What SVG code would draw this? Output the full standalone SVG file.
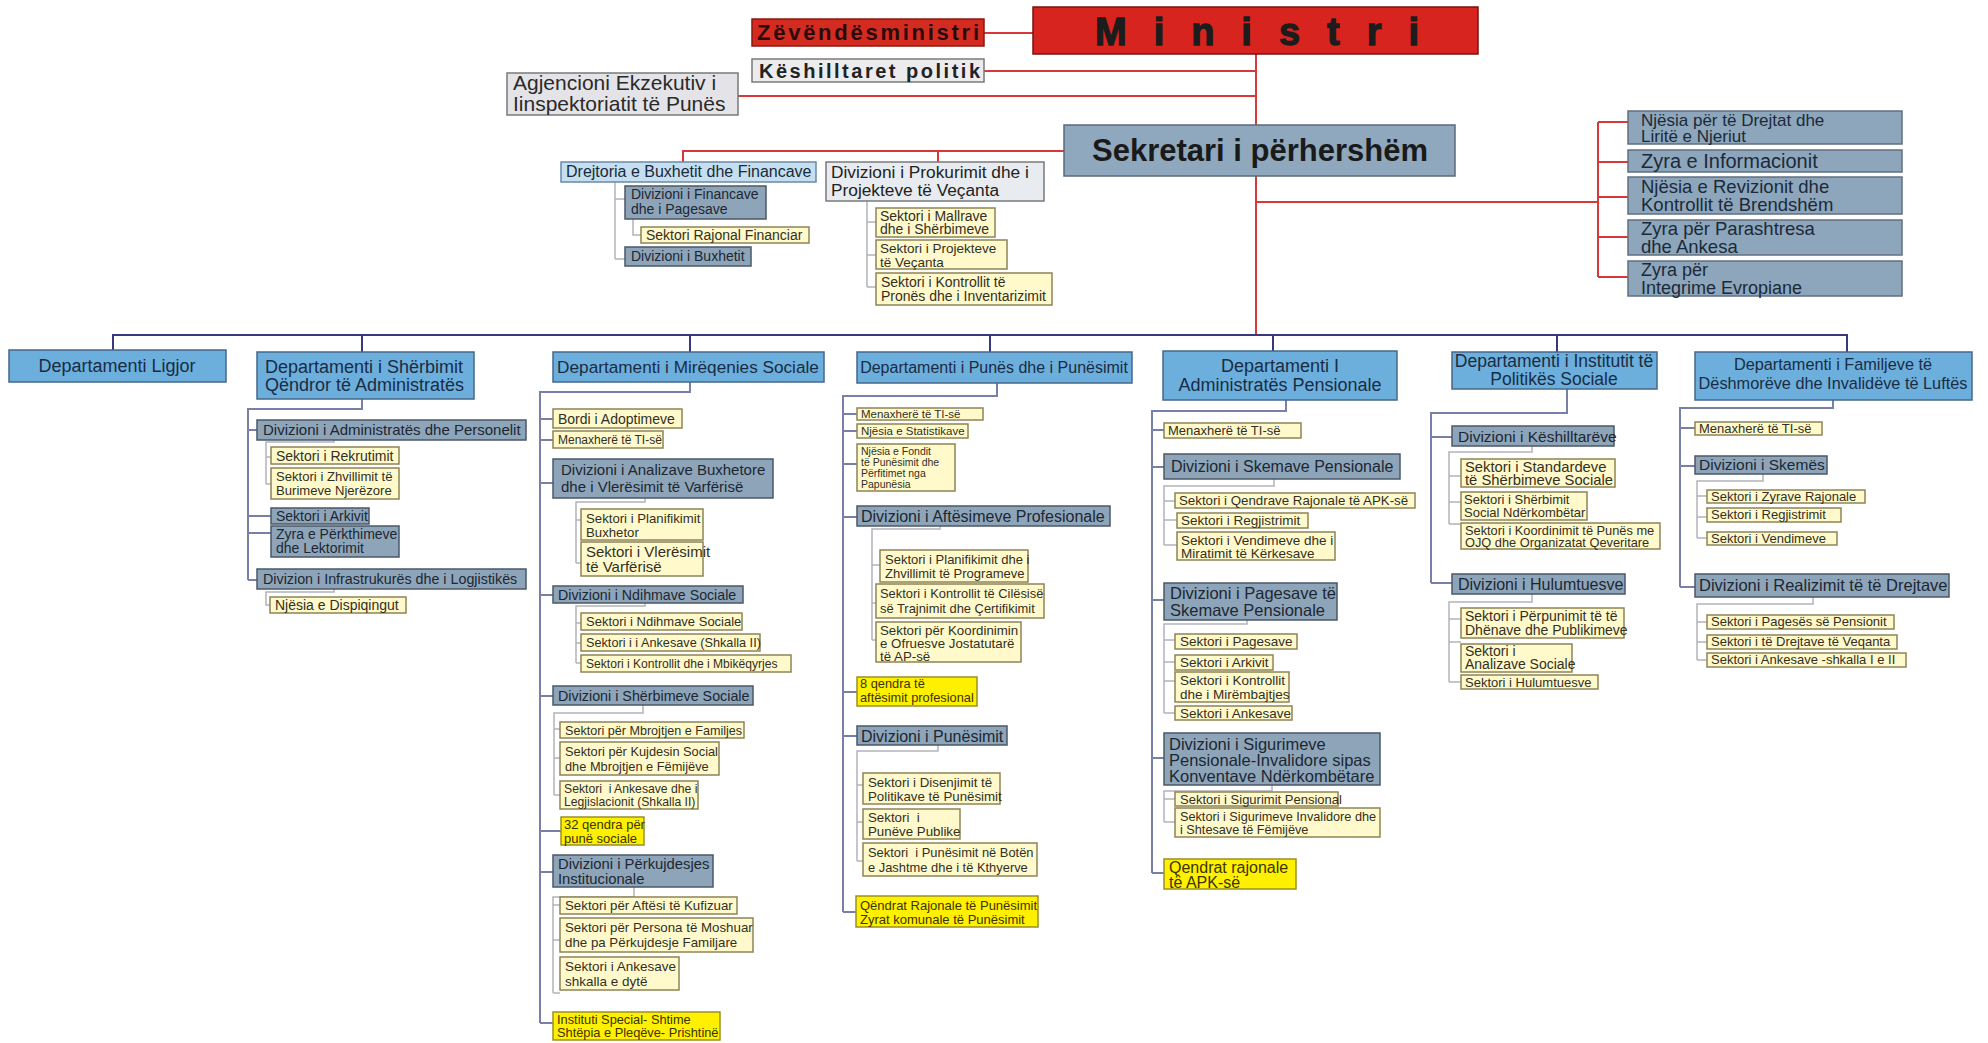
<svg xmlns="http://www.w3.org/2000/svg" width="1988" height="1043" viewBox="0 0 1988 1043">
<style>
text{font-family:"Liberation Sans",Arial,sans-serif;}
.red{fill:none;stroke:#d8383a;stroke-width:2}
.bar{fill:none;stroke:#3a3879;stroke-width:2}
.main{fill:none;stroke:#7880a8;stroke-width:2}
.sub{fill:none;stroke:#b2b2bc;stroke-width:1.5}
.dep rect{fill:#6cafdc;stroke:#46678a;stroke-width:1.5}
.dep text{fill:#1a2c44;font-size:18px}
.dv rect{fill:#8ea5b9;stroke:#4a5868;stroke-width:1.5}
.dv text{fill:#1c2733}
.sec rect{fill:#fff9cc;stroke:#8f8456;stroke-width:1.5}
.sec text{fill:#333022}
.hi rect{fill:#fff000;stroke:#9a9020;stroke-width:1.5}
.hi text{fill:#3a3400}
.rg rect{fill:#8ea6bb;stroke:#5f6f80;stroke-width:1.5}
.rg text{fill:#1a2a3a}
</style>

<g id="connectors">
<path class="red" d="M984 33H1033M984 71H1256M738 96H1256M1256 54V335M683 162V151H1064M938 151V162M1256 202H1598M1598 122V277M1598 122H1628M1598 162H1628M1598 197H1628M1598 237H1628M1598 277H1628"/>
<path class="sub" d="M615 182V259M615 199H625M615 259H625M633 219V235H641M867 201V287M867 222H876M867 255H876M867 287H876"/>
<path class="bar" d="M113 350V335H1847V352M362 335V352M690 335V352M990 335V352M1273 335V351M1557 335V352"/>
<path class="main" d="M362 399V409H248V580M248 430H257M248 516H271M248 533H271M248 580H257"/>
<path class="sub" d="M334 440V442H266V484M266 457H271M266 484H271M334 589V592H266V605H270"/>
<path class="main" d="M690 382V392H540V1023M540 419H553M540 440H553M540 483H553M540 595H553M540 696H553M540 831H561M540 872H553M540 1023H553"/>
<path class="sub" d="M645 498V502H576V563M576 520H581M576 563H581M645 603V606H576V663M576 623H581M576 643H581M576 663H581M643 705V713H554V795M554 729H560M554 758H560M554 795H560M634 887V897H553V993M553 905H560M553 940H560M553 993H560"/>
<path class="main" d="M997 383V396H843V912M843 414H857M843 431H857M843 464H857M843 517H857M843 692H857M843 736H857M843 912H856"/>
<path class="sub" d="M940 526V529H872V640M872 565H880M872 603H876M872 640H876M938 745V751H857V861M857 785H863M857 822H863M857 861H863"/>
<path class="main" d="M1286 400V411H1152V873M1152 430H1164M1152 467H1164M1152 600H1164M1152 758H1164M1152 873H1164"/>
<path class="sub" d="M1274 479V486H1164V545M1164 501H1175M1164 520H1177M1164 545H1177M1247 620V624H1164V713M1164 640H1175M1164 662H1175M1164 681H1175M1164 713H1175M1272 785V791H1164V822M1164 799H1175M1164 822H1175"/>
<path class="main" d="M1567 389V413H1431V583M1431 437H1452M1431 583H1452"/>
<path class="sub" d="M1532 446V452H1449V524M1449 476H1461M1449 502H1461M1449 524H1461M1532 594V602H1449V682M1449 619H1461M1449 642H1461M1449 682H1461"/>
<path class="main" d="M1833 400V408H1680V587M1680 428H1695M1680 466H1695M1680 587H1695"/>
<path class="sub" d="M1763 474V481H1697V538M1697 496H1707M1697 517H1707M1697 538H1707M1813 597V604H1697V660M1697 622H1707M1697 642H1707M1697 660H1707"/>
</g>

<g id="zevendesministri"><rect x="752" y="19" width="232" height="27" fill="#d42b20" stroke="#8a1a10" stroke-width="1.5"/><text x="757" y="40" font-size="22" font-weight="bold" fill="#2a0a08" textLength="222" lengthAdjust="spacing">Zëvëndësministri</text></g>
<g id="ministri"><rect x="1033" y="7" width="445" height="47" fill="#d8241f" stroke="#7a1010" stroke-width="1.5"/><text x="1095" y="45" font-size="38" font-weight="bold" fill="#1c1c1c" stroke="#1c1c1c" stroke-width="1.3" textLength="324" lengthAdjust="spacing">Ministri</text></g>
<g id="keshilltaret"><rect x="752" y="59" width="232" height="23" fill="#ececef" stroke="#7a7a7a" stroke-width="1.5"/><text x="759" y="78" font-size="20" font-weight="bold" fill="#222" textLength="221" lengthAdjust="spacing">Këshilltaret politik</text></g>
<g id="agjencioni"><rect x="507" y="73" width="231" height="42" fill="#e4e4e8" stroke="#7a7a7a" stroke-width="1.5"/><text font-size="21" fill="#2a2a2a"><tspan x="513" y="90">Agjencioni Ekzekutiv i</tspan><tspan x="513" y="111">Iinspektoriatit të Punës</tspan></text></g>
<g id="sekretari"><rect x="1064" y="125" width="391" height="51" fill="#8fa8bd" stroke="#5a6a7a" stroke-width="1.5"/><text x="1260" y="161" font-size="31" font-weight="bold" fill="#1a1a1a" text-anchor="middle">Sekretari i përhershëm</text></g>

<g id="drejtoria"><rect x="561" y="162" width="255" height="20" fill="#c5dff0" stroke="#6a8aa8" stroke-width="1.5"/><text x="566" y="177" font-size="16" fill="#1a2a3a">Drejtoria e Buxhetit dhe Financave</text></g>
<g id="prokurimit"><rect x="826" y="162" width="218" height="39" fill="#e8ecf0" stroke="#7a7a7a" stroke-width="1.5"/><text font-size="17.3" fill="#222"><tspan x="831" y="178">Divizioni i Prokurimit dhe i</tspan><tspan x="831" y="196">Projekteve të Veçanta</tspan></text></g>
<g id="div-financave" class="dv"><rect x="625" y="186" width="141" height="33"/><text font-size="14"><tspan x="631" y="199">Divizioni i Financave</tspan><tspan x="631" y="214">dhe i Pagesave</tspan></text></g>
<g id="sek-rajonal-financiar" class="sec"><rect x="641" y="227" width="168" height="16"/><text x="646" y="240" font-size="14">Sektori Rajonal Financiar</text></g>
<g id="div-buxhetit" class="dv"><rect x="625" y="247" width="126" height="19"/><text x="631" y="261" font-size="14">Divizioni i Buxhetit</text></g>
<g id="sek-mallrave" class="sec"><rect x="876" y="208" width="119" height="29"/><text font-size="14"><tspan x="880" y="221">Sektori i Mallrave</tspan><tspan x="880" y="234">dhe i Shërbimeve</tspan></text></g>
<g id="sek-projekteve" class="sec"><rect x="876" y="240" width="131" height="29"/><text font-size="13.5"><tspan x="880" y="253">Sektori i Projekteve</tspan><tspan x="880" y="266.5">të Veçanta</tspan></text></g>
<g id="sek-kontrollit-prones" class="sec"><rect x="876" y="273" width="176" height="32"/><text font-size="14"><tspan x="881" y="287">Sektori i Kontrollit të</tspan><tspan x="881" y="301">Pronës dhe i Inventarizimit</tspan></text></g>

<g id="njesia-drejtat" class="rg"><rect x="1628" y="111" width="274" height="33"/><text font-size="17"><tspan x="1641" y="125.5">Njësia për të Drejtat dhe</tspan><tspan x="1641" y="141.5">Liritë e Njeriut</tspan></text></g>
<g id="zyra-informacionit" class="rg"><rect x="1628" y="150" width="274" height="22"/><text x="1641" y="168" font-size="20">Zyra e Informacionit</text></g>
<g id="njesia-revizionit" class="rg"><rect x="1628" y="177" width="274" height="37"/><text font-size="18.5"><tspan x="1641" y="193">Njësia e Revizionit dhe</tspan><tspan x="1641" y="211">Kontrollit të Brendshëm</tspan></text></g>
<g id="zyra-parashtresa" class="rg"><rect x="1628" y="220" width="274" height="35"/><text font-size="18.5"><tspan x="1641" y="235">Zyra për Parashtresa</tspan><tspan x="1641" y="253">dhe Ankesa</tspan></text></g>
<g id="zyra-integrime" class="rg"><rect x="1628" y="261" width="274" height="35"/><text font-size="18"><tspan x="1641" y="276">Zyra për</tspan><tspan x="1641" y="293.5">Integrime Evropiane</tspan></text></g>

<g id="dep-ligjor" class="dep"><rect x="9" y="350" width="217" height="32"/><text x="117" y="372" text-anchor="middle">Departamenti Ligjor</text></g>

<g id="dep-sherbimit" class="dep"><rect x="257" y="352" width="217" height="47"/><text><tspan x="265" y="373">Departamenti i Shërbimit</tspan><tspan x="265" y="391">Qëndror të Administratës</tspan></text></g>
<g id="div-administrates" class="dv"><rect x="257" y="420" width="269" height="20"/><text x="263" y="435" font-size="15">Divizioni i Administratës dhe Personelit</text></g>
<g id="sek-rekrutimit" class="sec"><rect x="271" y="447" width="128" height="17"/><text x="276" y="461" font-size="14">Sektori i Rekrutimit</text></g>
<g id="sek-zhvillimit" class="sec"><rect x="271" y="468" width="128" height="31"/><text font-size="13.1"><tspan x="276" y="481">Sektori i Zhvillimit të</tspan><tspan x="276" y="495">Burimeve Njerëzore</tspan></text></g>
<g id="sek-arkivit-1" class="dv"><rect x="271" y="508" width="98" height="16"/><text x="276" y="521" font-size="14">Sektori i Arkivit</text></g>
<g id="zyra-perkthimeve" class="dv"><rect x="271" y="526" width="128" height="31"/><text font-size="14"><tspan x="276" y="539">Zyra e Përkthimeve</tspan><tspan x="276" y="553">dhe Lektorimit</tspan></text></g>
<g id="div-infrastruktures" class="dv"><rect x="257" y="569" width="269" height="20"/><text x="263" y="584" font-size="14.3">Divizion i Infrastrukurës dhe i Logjistikës</text></g>
<g id="njesia-dispiqingut" class="sec"><rect x="270" y="597" width="136" height="16"/><text x="275" y="610" font-size="14">Njësia e Dispiqingut</text></g>

<g id="dep-mireqenies" class="dep"><rect x="553" y="352" width="271" height="30"/><text x="688" y="373" text-anchor="middle" style="font-size:17.2px">Departamenti i Mirëqenies Sociale</text></g>
<g id="bordi-adoptimeve" class="sec"><rect x="553" y="409" width="129" height="19"/><text x="558" y="424" font-size="14">Bordi i Adoptimeve</text></g>
<g id="menaxhere-1" class="sec"><rect x="553" y="431" width="110" height="17"/><text x="558" y="444" font-size="12">Menaxherë të TI-së</text></g>
<g id="div-analizave" class="dv"><rect x="553" y="459" width="220" height="39"/><text font-size="15"><tspan x="561" y="475">Divizioni i Analizave Buxhetore</tspan><tspan x="561" y="492">dhe i Vlerësimit të Varfërisë</tspan></text></g>
<g id="sek-planifikimit-buxhetor" class="sec"><rect x="581" y="509" width="122" height="31"/><text font-size="13.2"><tspan x="586" y="523">Sektori i Planifikimit</tspan><tspan x="586" y="537">Buxhetor</tspan></text></g>
<g id="sek-vleresimit" class="sec"><rect x="581" y="542" width="122" height="34"/><text font-size="15"><tspan x="586" y="557">Sektori i Vlerësimit</tspan><tspan x="586" y="572">të Varfërisë</tspan></text></g>
<g id="div-ndihmave" class="dv"><rect x="553" y="586" width="190" height="17"/><text x="558" y="600" font-size="14.2">Divizioni i Ndihmave Sociale</text></g>
<g id="sek-ndihmave" class="sec"><rect x="581" y="613" width="161" height="17"/><text x="586" y="626" font-size="13">Sektori i Ndihmave Sociale</text></g>
<g id="sek-ankesave-ii" class="sec"><rect x="581" y="634" width="179" height="17"/><text x="586" y="647" font-size="12.7">Sektori i i Ankesave (Shkalla II)</text></g>
<g id="sek-kontrollit-mbikeqyrjes" class="sec"><rect x="581" y="655" width="210" height="17"/><text x="586" y="668" font-size="12.1">Sektori i Kontrollit dhe i Mbikëqyrjes</text></g>
<g id="div-sherbimeve-sociale" class="dv"><rect x="553" y="686" width="200" height="19"/><text x="558" y="701" font-size="14.3">Divizioni i Shërbimeve Sociale</text></g>
<g id="sek-mbrojtjen" class="sec"><rect x="560" y="722" width="184" height="16"/><text x="565" y="735" font-size="12.6">Sektori për Mbrojtjen e Familjes</text></g>
<g id="sek-kujdesin" class="sec"><rect x="560" y="742" width="159" height="33"/><text font-size="12.8"><tspan x="565" y="756">Sektori për Kujdesin Social</tspan><tspan x="565" y="771">dhe Mbrojtjen e Fëmijëve</tspan></text></g>
<g id="sek-legjislacionit" class="sec"><rect x="560" y="781" width="138" height="28"/><text font-size="12.2" xml:space="preserve"><tspan x="564" y="793">Sektori  i Ankesave dhe i</tspan><tspan x="564" y="806">Legjislacionit (Shkalla II)</tspan></text></g>
<g id="qendra-32" class="hi"><rect x="561" y="817" width="83" height="28"/><text font-size="13"><tspan x="564" y="829">32 qendra për</tspan><tspan x="564" y="842.5">punë sociale</tspan></text></g>
<g id="div-perkujdesjes" class="dv"><rect x="553" y="855" width="160" height="32"/><text font-size="14.8"><tspan x="558" y="869">Divizioni i Përkujdesjes</tspan><tspan x="558" y="884">Institucionale</tspan></text></g>
<g id="sek-aftesi" class="sec"><rect x="560" y="897" width="177" height="17"/><text x="565" y="910" font-size="13.3">Sektori për Aftësi të Kufizuar</text></g>
<g id="sek-persona" class="sec"><rect x="560" y="918" width="193" height="34"/><text font-size="13.3"><tspan x="565" y="932">Sektori për Persona të Moshuar</tspan><tspan x="565" y="947">dhe pa Përkujdesje Familjare</tspan></text></g>
<g id="sek-ankesave-dyte" class="sec"><rect x="560" y="957" width="119" height="33"/><text font-size="13.5"><tspan x="565" y="971">Sektori i Ankesave</tspan><tspan x="565" y="986">shkalla e dytë</tspan></text></g>
<g id="instituti-special" class="hi"><rect x="553" y="1012" width="167" height="28"/><text font-size="12.8"><tspan x="557" y="1024">Instituti Special- Shtime</tspan><tspan x="557" y="1037">Shtëpia e Pleqëve- Prishtinë</tspan></text></g>

<g id="dep-punes" class="dep"><rect x="857" y="352" width="275" height="31"/><text x="994" y="373" text-anchor="middle" style="font-size:16px">Departamenti i Punës dhe i Punësimit</text></g>
<g id="menaxhere-2" class="sec"><rect x="857" y="408" width="126" height="12"/><text x="861" y="418" font-size="11.5">Menaxherë të TI-së</text></g>
<g id="njesia-statistikave" class="sec"><rect x="857" y="424" width="111" height="14"/><text x="861" y="435" font-size="11.5">Njësia e Statistikave</text></g>
<g id="njesia-fondit" class="sec"><rect x="857" y="444" width="98" height="47"/><text font-size="10.5"><tspan x="861" y="455">Njësia e Fondit</tspan><tspan x="861" y="466">të Punësimit dhe</tspan><tspan x="861" y="477">Përfitimet nga</tspan><tspan x="861" y="488">Papunësia</tspan></text></g>
<g id="div-aftesimeve" class="dv"><rect x="857" y="506" width="253" height="20"/><text x="861" y="522" font-size="16">Divizioni i Aftësimeve Profesionale</text></g>
<g id="sek-planifikimit-programeve" class="sec"><rect x="880" y="550" width="148" height="32"/><text font-size="13"><tspan x="885" y="564">Sektori i Planifikimit dhe i</tspan><tspan x="885" y="578">Zhvillimit të Programeve</tspan></text></g>
<g id="sek-cilesise" class="sec"><rect x="876" y="584" width="168" height="34"/><text font-size="12.9"><tspan x="880" y="598">Sektori i Kontrollit të Cilësisë</tspan><tspan x="880" y="613">së Trajnimit dhe Çertifikimit</tspan></text></g>
<g id="sek-koordinimin" class="sec"><rect x="876" y="622" width="145" height="40"/><text font-size="13.3"><tspan x="880" y="635">Sektori për Koordinimin</tspan><tspan x="880" y="648.2">e Ofruesve Jostatutarë</tspan><tspan x="880" y="660.5">të AP-së</tspan></text></g>
<g id="qendra-8" class="hi"><rect x="857" y="677" width="120" height="29"/><text font-size="12.8"><tspan x="860" y="688">8 qendra të</tspan><tspan x="860" y="702">aftësimit profesional</tspan></text></g>
<g id="div-punesimit" class="dv"><rect x="857" y="726" width="150" height="19"/><text x="861" y="742" font-size="16">Divizioni i Punësimit</text></g>
<g id="sek-disenjimit" class="sec"><rect x="863" y="773" width="137" height="31"/><text font-size="13.3"><tspan x="868" y="787">Sektori i Disenjimit të</tspan><tspan x="868" y="801">Politikave të Punësimit</tspan></text></g>
<g id="sek-puneve-publike" class="sec"><rect x="863" y="809" width="97" height="30"/><text font-size="13.3" xml:space="preserve"><tspan x="868" y="822">Sektori  i</tspan><tspan x="868" y="836">Punëve Publike</tspan></text></g>
<g id="sek-boten" class="sec"><rect x="863" y="843" width="174" height="33"/><text font-size="12.9" xml:space="preserve"><tspan x="868" y="857">Sektori  i Punësimit në Botën</tspan><tspan x="868" y="872">e Jashtme dhe i të Kthyerve</tspan></text></g>
<g id="qendrat-punesimit" class="hi"><rect x="856" y="896" width="182" height="31"/><text font-size="13"><tspan x="860" y="910">Qëndrat Rajonale të Punësimit</tspan><tspan x="860" y="924">Zyrat komunale të Punësimit</tspan></text></g>

<g id="dep-pensionale" class="dep"><rect x="1163" y="351" width="234" height="49"/><text text-anchor="middle"><tspan x="1280" y="372">Departamenti I</tspan><tspan x="1280" y="391">Administratës Pensionale</tspan></text></g>
<g id="menaxhere-3" class="sec"><rect x="1164" y="423" width="137" height="15"/><text x="1168" y="435" font-size="13">Menaxherë të TI-së</text></g>
<g id="div-skemave" class="dv"><rect x="1164" y="454" width="236" height="25"/><text x="1171" y="472" font-size="16">Divizioni i Skemave Pensionale</text></g>
<g id="sek-qendrave" class="sec"><rect x="1175" y="493" width="240" height="15"/><text x="1179" y="505" font-size="13.3">Sektori i Qendrave Rajonale të APK-së</text></g>
<g id="sek-regjistrimit-1" class="sec"><rect x="1177" y="513" width="131" height="15"/><text x="1181" y="525" font-size="13.5">Sektori i Regjistrimit</text></g>
<g id="sek-vendimeve-1" class="sec"><rect x="1177" y="532" width="158" height="28"/><text font-size="13.5"><tspan x="1181" y="545">Sektori i Vendimeve dhe i</tspan><tspan x="1181" y="558">Miratimit të Kërkesave</tspan></text></g>
<g id="div-pagesave" class="dv"><rect x="1164" y="583" width="173" height="37"/><text font-size="16.5"><tspan x="1170" y="599">Divizioni i Pagesave të</tspan><tspan x="1170" y="616">Skemave Pensionale</tspan></text></g>
<g id="sek-pagesave" class="sec"><rect x="1175" y="634" width="122" height="15"/><text x="1180" y="646" font-size="13.5">Sektori i Pagesave</text></g>
<g id="sek-arkivit-2" class="sec"><rect x="1175" y="655" width="98" height="15"/><text x="1180" y="667" font-size="13.5">Sektori i Arkivit</text></g>
<g id="sek-kontrollit-mirembajtjes" class="sec"><rect x="1175" y="672" width="114" height="30"/><text font-size="13.5"><tspan x="1180" y="685">Sektori i Kontrollit</tspan><tspan x="1180" y="699">dhe i Mirëmbajtjes</tspan></text></g>
<g id="sek-ankesave-1" class="sec"><rect x="1175" y="706" width="117" height="14"/><text x="1180" y="718" font-size="13.5">Sektori i Ankesave</text></g>
<g id="div-sigurimeve" class="dv"><rect x="1164" y="733" width="216" height="52"/><text font-size="16.5"><tspan x="1169" y="750">Divizioni i Sigurimeve</tspan><tspan x="1169" y="766">Pensionale-Invalidore sipas</tspan><tspan x="1169" y="782">Konventave Ndërkombëtare</tspan></text></g>
<g id="sek-sigurimit" class="sec"><rect x="1175" y="792" width="163" height="14"/><text x="1180" y="804" font-size="13">Sektori i Sigurimit Pensional</text></g>
<g id="sek-invalidore" class="sec"><rect x="1175" y="808" width="205" height="29"/><text font-size="12.7"><tspan x="1180" y="821">Sektori i Sigurimeve Invalidore dhe</tspan><tspan x="1180" y="834">i Shtesave të Fëmijëve</tspan></text></g>
<g id="qendrat-apk" class="hi"><rect x="1164" y="859" width="132" height="30"/><text font-size="16"><tspan x="1169" y="872.5">Qendrat rajonale</tspan><tspan x="1169" y="888">të APK-së</tspan></text></g>

<g id="dep-institutit" class="dep"><rect x="1452" y="352" width="205" height="37"/><text text-anchor="middle" style="font-size:17.5px"><tspan x="1554" y="367">Departamenti i Institutit të</tspan><tspan x="1554" y="385">Politikës Sociale</tspan></text></g>
<g id="div-keshilltareve" class="dv"><rect x="1452" y="426" width="162" height="20"/><text x="1458" y="442" font-size="15.5">Divizioni i Këshilltarëve</text></g>
<g id="sek-standardeve" class="sec"><rect x="1461" y="459" width="154" height="28"/><text font-size="14.8"><tspan x="1465" y="472">Sektori i Standardeve</tspan><tspan x="1465" y="485">të Shërbimeve Sociale</tspan></text></g>
<g id="sek-sherbimit-social" class="sec"><rect x="1461" y="492" width="126" height="28"/><text font-size="13"><tspan x="1464" y="504">Sektori i Shërbimit</tspan><tspan x="1464" y="517">Social Ndërkombëtar</tspan></text></g>
<g id="sek-koordinimit-ojq" class="sec"><rect x="1461" y="523" width="199" height="26"/><text font-size="12.8"><tspan x="1465" y="535">Sektori i Koordinimit të Punës me</tspan><tspan x="1465" y="547">OJQ dhe Organizatat Qeveritare</tspan></text></g>
<g id="div-hulumtuesve" class="dv"><rect x="1452" y="574" width="173" height="20"/><text x="1458" y="590" font-size="16">Divizioni i Hulumtuesve</text></g>
<g id="sek-perpunimit" class="sec"><rect x="1461" y="608" width="163" height="30"/><text font-size="14"><tspan x="1465" y="621">Sektori i Përpunimit të të</tspan><tspan x="1465" y="635">Dhënave dhe Publikimeve</tspan></text></g>
<g id="sek-analizave-sociale" class="sec"><rect x="1461" y="644" width="111" height="28"/><text font-size="14"><tspan x="1465" y="656">Sektori i</tspan><tspan x="1465" y="669">Analizave Sociale</tspan></text></g>
<g id="sek-hulumtuesve" class="sec"><rect x="1461" y="675" width="137" height="14"/><text x="1465" y="687" font-size="13">Sektori i Hulumtuesve</text></g>

<g id="dep-familjeve" class="dep"><rect x="1695" y="352" width="277" height="48"/><text text-anchor="middle" style="font-size:16.3px"><tspan x="1833" y="370">Departamenti i Familjeve të</tspan><tspan x="1833" y="389">Dëshmorëve dhe Invalidëve të Luftës</tspan></text></g>
<g id="menaxhere-4" class="sec"><rect x="1695" y="422" width="127" height="13"/><text x="1699" y="433" font-size="13">Menaxherë të TI-së</text></g>
<g id="div-skemes" class="dv"><rect x="1695" y="456" width="132" height="18"/><text x="1699" y="470" font-size="15.5">Divizioni i Skemës</text></g>
<g id="sek-zyrave" class="sec"><rect x="1707" y="490" width="158" height="13"/><text x="1711" y="501" font-size="13">Sektori i Zyrave Rajonale</text></g>
<g id="sek-regjistrimit-2" class="sec"><rect x="1707" y="508" width="134" height="14"/><text x="1711" y="519" font-size="13">Sektori i Regjistrimit</text></g>
<g id="sek-vendimeve-2" class="sec"><rect x="1707" y="532" width="130" height="13"/><text x="1711" y="543" font-size="13">Sektori i Vendimeve</text></g>
<g id="div-realizimit" class="dv"><rect x="1695" y="574" width="254" height="23"/><text x="1699" y="591" font-size="16.5">Divizioni i Realizimit të të Drejtave</text></g>
<g id="sek-pageses" class="sec"><rect x="1707" y="615" width="187" height="14"/><text x="1711" y="626" font-size="13">Sektori i Pagesës së Pensionit</text></g>
<g id="sek-drejtave" class="sec"><rect x="1707" y="635" width="190" height="14"/><text x="1711" y="646" font-size="13">Sektori i të Drejtave të Veqanta</text></g>
<g id="sek-ankesave-2" class="sec"><rect x="1707" y="653" width="199" height="14"/><text x="1711" y="664" font-size="13">Sektori i Ankesave -shkalla I e II</text></g>
</svg>
